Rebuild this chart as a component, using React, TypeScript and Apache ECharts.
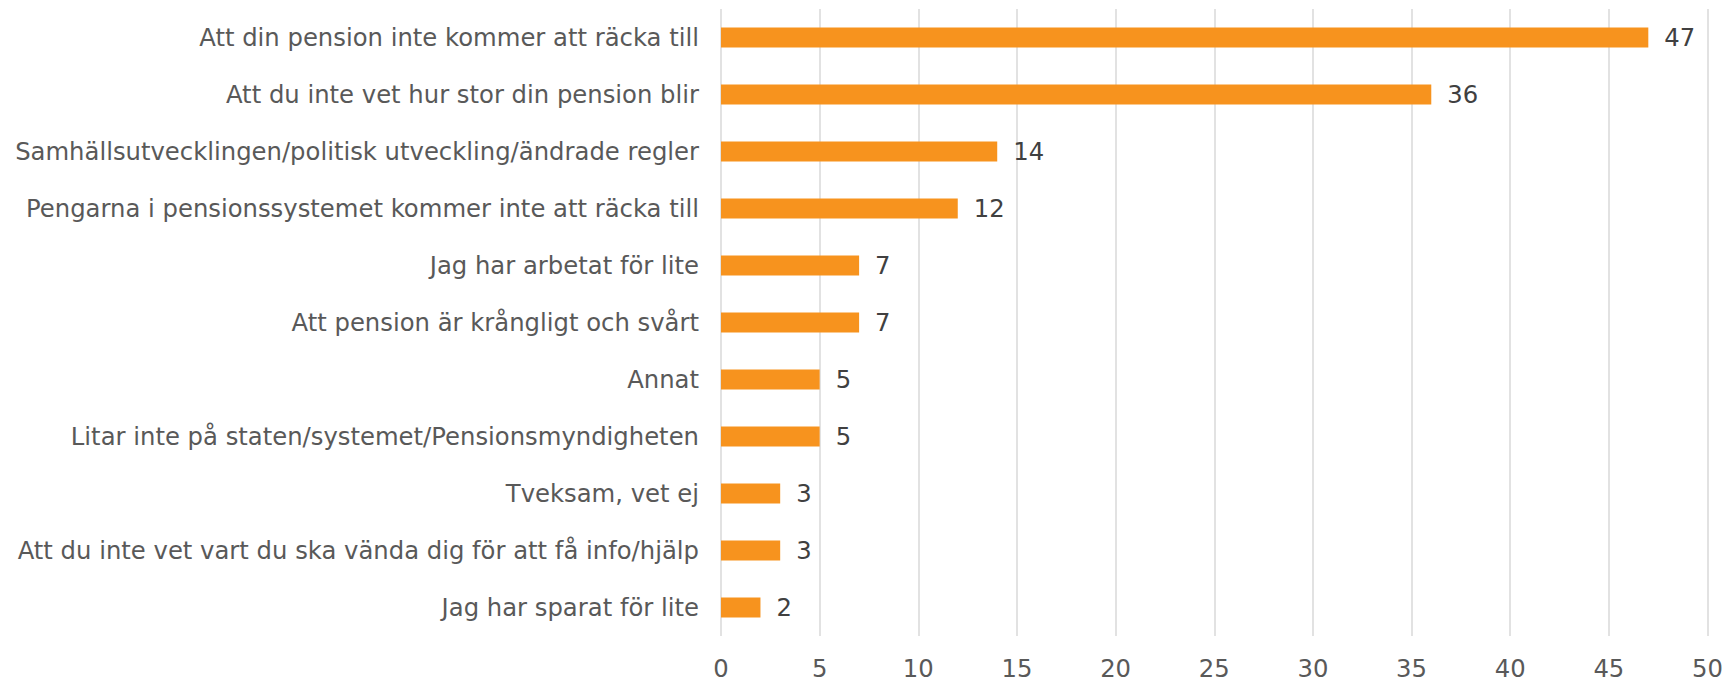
import React, { useEffect, useRef } from "react";
import * as echarts from "echarts";

const categories = [
  "Att din pension inte kommer att räcka till",
  "Att du inte vet hur stor din pension blir",
  "Samhällsutvecklingen/politisk utveckling/ändrade regler",
  "Pengarna i pensionssystemet kommer inte att räcka till",
  "Jag har arbetat för lite",
  "Att pension är krångligt och svårt",
  "Annat",
  "Litar inte på staten/systemet/Pensionsmyndigheten",
  "Tveksam, vet ej",
  "Att du inte vet vart du ska vända dig för att få info/hjälp",
  "Jag har sparat för lite",
];
const values = [47, 36, 14, 12, 7, 7, 5, 5, 3, 3, 2];
const xTicks = [0, 50, 5];

export default function App() {
  const ref = useRef<HTMLDivElement>(null);
  useEffect(() => {
    if (!ref.current) return;
    const chart = echarts.init(ref.current, null, { renderer: "svg" });
    const font = "'DejaVu Sans', Verdana, sans-serif";
    chart.setOption({
      animation: false,
      backgroundColor: "#ffffff",
      grid: { left: 721, right: 27.5, top: 9, bottom: 45, containLabel: false },
      xAxis: {
        type: "value",
        min: xTicks[0],
        max: xTicks[1],
        interval: xTicks[2],
        axisLine: { show: false },
        axisTick: { show: false },
        axisLabel: { color: "#595959", fontSize: 24.3, fontFamily: font, margin: 20 },
        splitLine: { show: true, lineStyle: { color: "#d9d9d9", width: 1.5 } },
      },
      yAxis: {
        type: "category",
        data: categories.slice().reverse(),
        axisLine: { show: false },
        axisTick: { show: false },
        axisLabel: { color: "#595959", fontSize: 24.3, fontFamily: font, margin: 22 },
      },
      series: [
        {
          type: "bar",
          data: values.slice().reverse(),
          barWidth: 20,
          itemStyle: { color: "#F7931E" },
          label: {
            show: true,
            position: "right",
            distance: 16,
            color: "#404040",
            fontSize: 24.3,
            fontFamily: font,
          },
        },
      ],
    });
    return () => chart.dispose();
  }, []);
  return (
    <div
      ref={ref}
      style={{ position: "fixed", left: 0, top: 0, width: 1735, height: 681 }}
    />
  );
}
